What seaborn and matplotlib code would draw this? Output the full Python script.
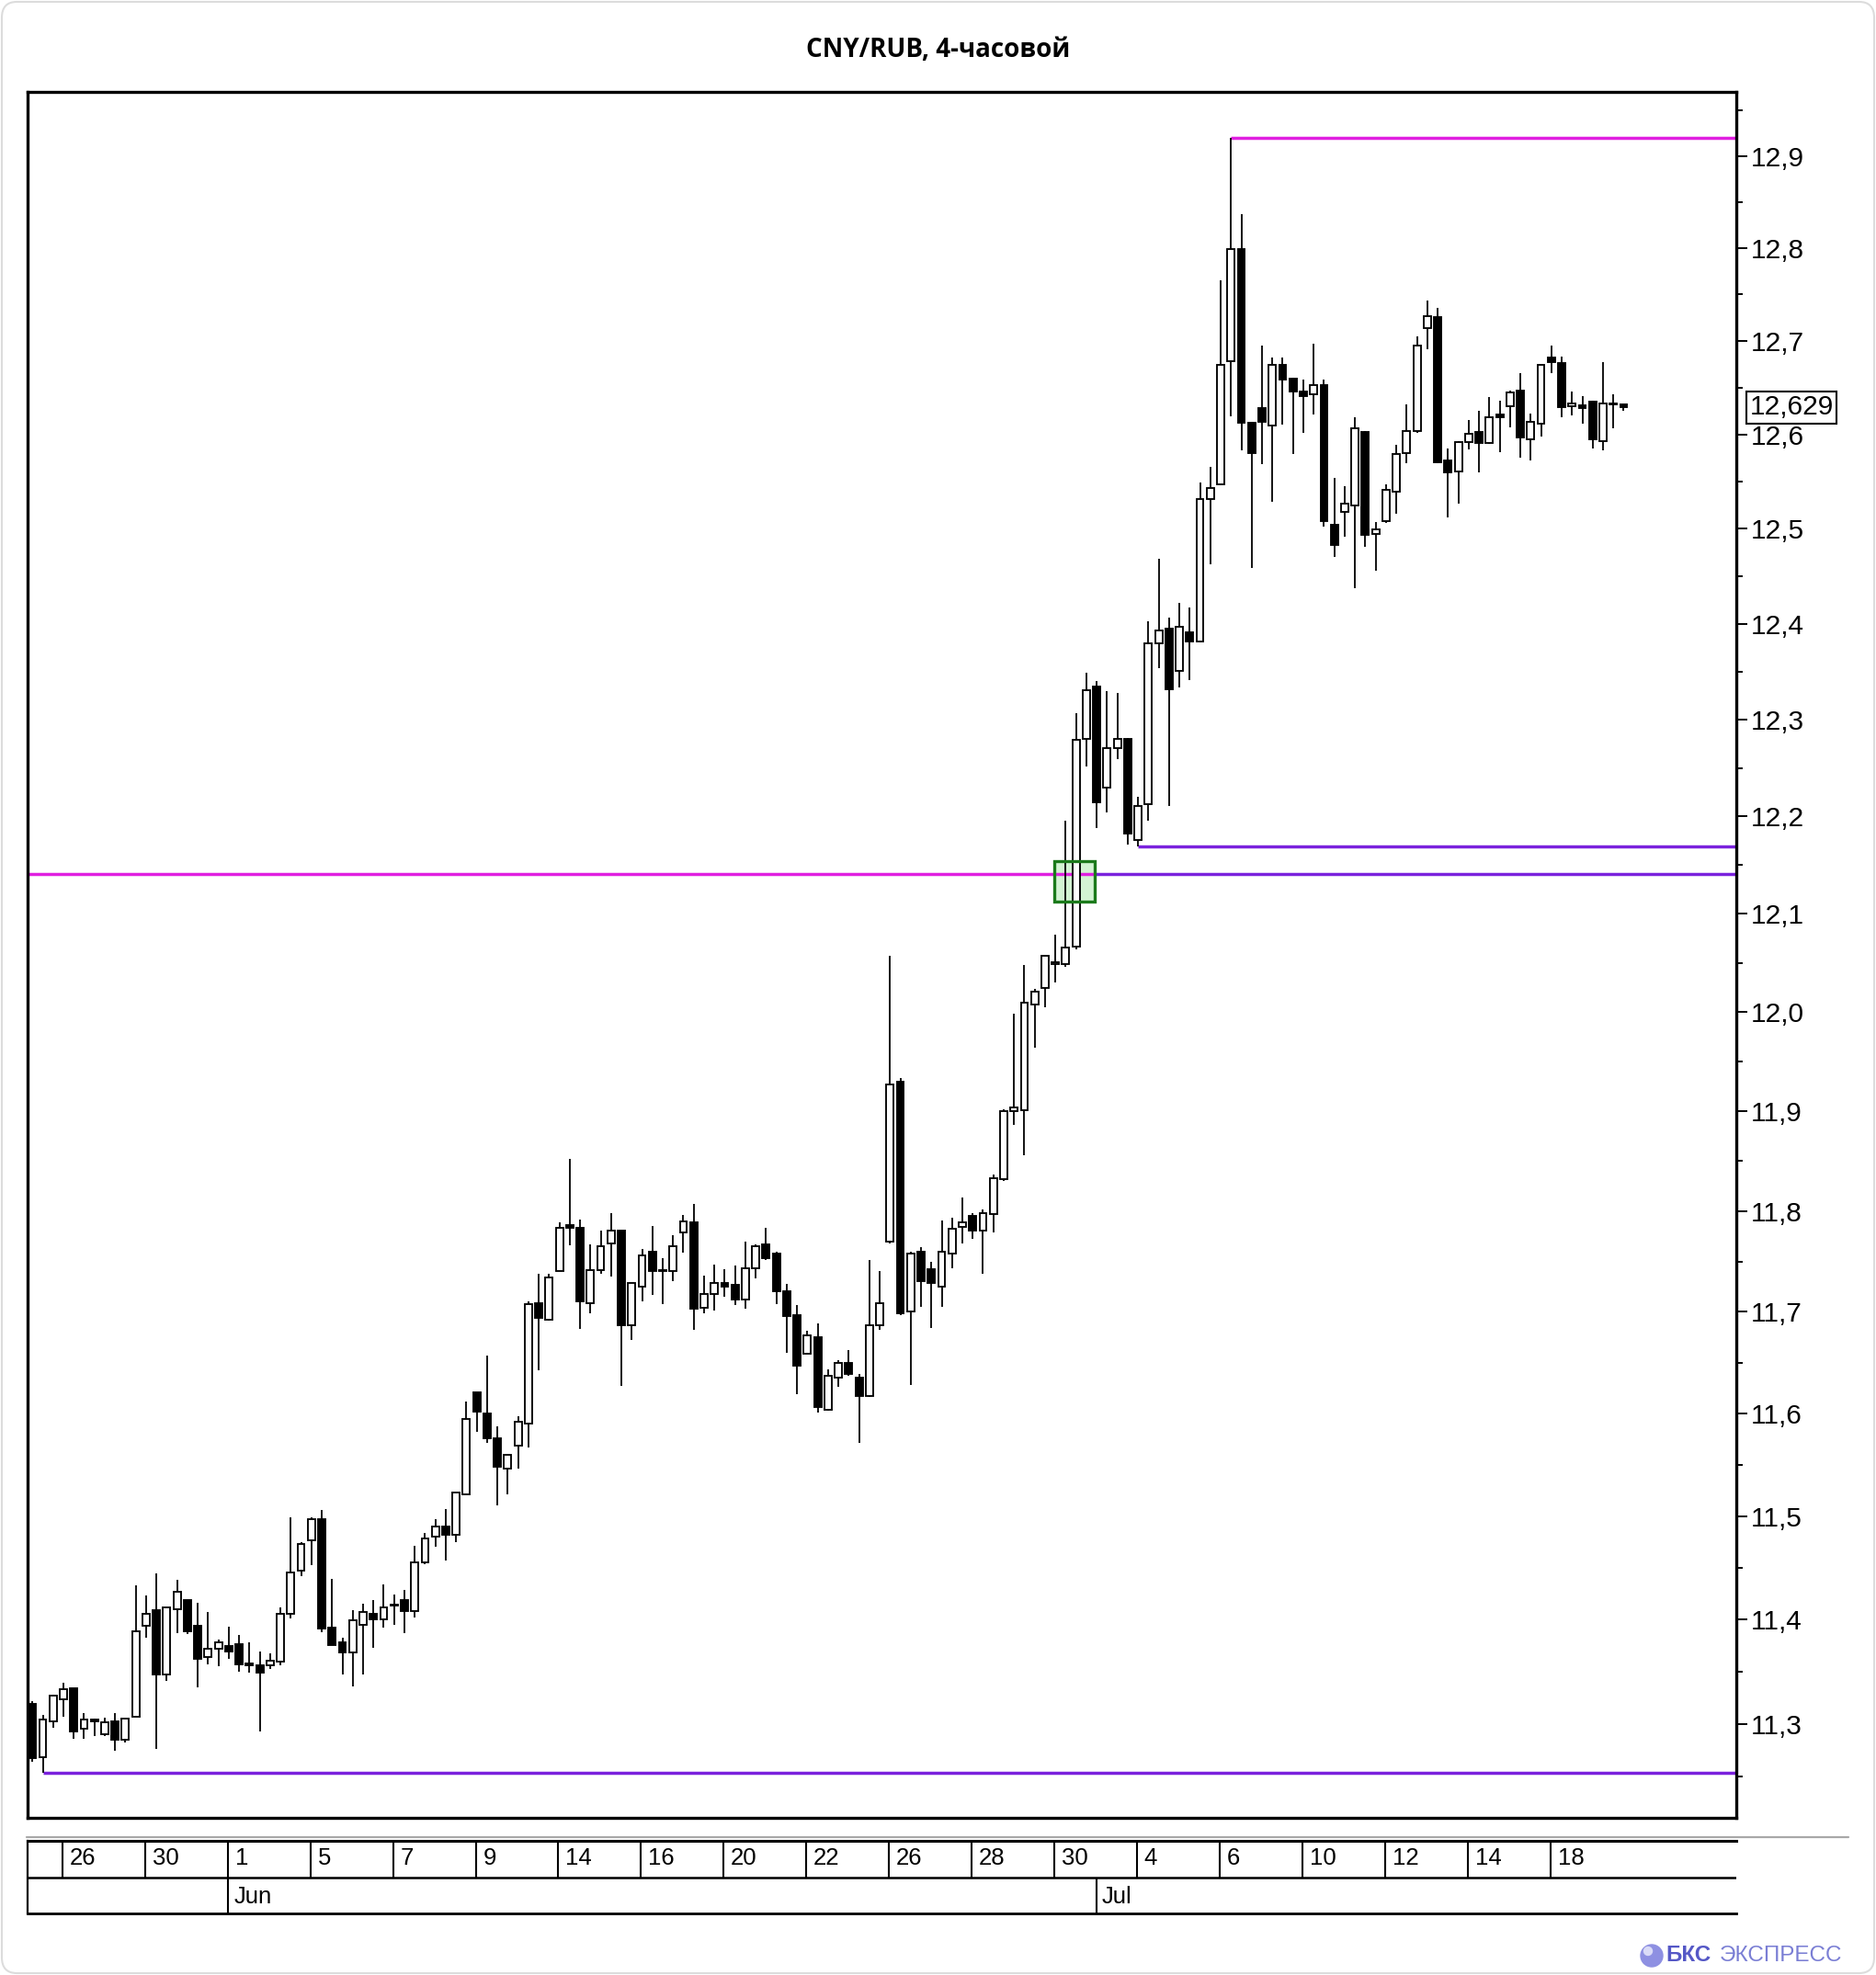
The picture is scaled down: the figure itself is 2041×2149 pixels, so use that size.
import numpy as np
import pandas as pd
import matplotlib
matplotlib.use("Agg")
import matplotlib.pyplot as plt
import matplotlib.ticker as mticker
import matplotlib.transforms as mtransforms
from matplotlib.patches import Rectangle, FancyBboxPatch, Ellipse
import seaborn as sns

# trading sessions shown on the chart (first one is only partly visible: 3 candles)
sessions = ["2023-05-25", "2023-05-26", "2023-05-29", "2023-05-30", "2023-05-31",
            "2023-06-01", "2023-06-02", "2023-06-05", "2023-06-06", "2023-06-07",
            "2023-06-08", "2023-06-09", "2023-06-13", "2023-06-14", "2023-06-15",
            "2023-06-16", "2023-06-19", "2023-06-20", "2023-06-21", "2023-06-22",
            "2023-06-23", "2023-06-26", "2023-06-27", "2023-06-28", "2023-06-29",
            "2023-06-30", "2023-07-03", "2023-07-04", "2023-07-05", "2023-07-06",
            "2023-07-07", "2023-07-10", "2023-07-11", "2023-07-12", "2023-07-13",
            "2023-07-14", "2023-07-17", "2023-07-18", "2023-07-19"]
candles_per_session = [3] + [4] * (len(sessions) - 1)

# 4h OHLC
opens = [11.319, 11.268, 11.302, 11.323, 11.334, 11.295, 11.304, 11.290, 11.302, 11.285,
         11.307, 11.394, 11.409, 11.347, 11.410, 11.419, 11.394, 11.364, 11.372, 11.374,
         11.376, 11.358, 11.356, 11.356, 11.359, 11.405, 11.447, 11.476, 11.497, 11.392,
         11.378, 11.368, 11.395, 11.405, 11.400, 11.413, 11.419, 11.408, 11.455, 11.480,
         11.490, 11.482, 11.521, 11.621, 11.600, 11.576, 11.546, 11.569, 11.590, 11.709,
         11.692, 11.740, 11.786, 11.783, 11.709, 11.741, 11.768, 11.781, 11.687, 11.725,
         11.760, 11.740, 11.740, 11.779, 11.789, 11.704, 11.718, 11.729, 11.727, 11.712,
         11.743, 11.767, 11.758, 11.720, 11.697, 11.659, 11.675, 11.604, 11.635, 11.650,
         11.635, 11.617, 11.687, 11.770, 11.930, 11.700, 11.760, 11.742, 11.725, 11.758,
         11.784, 11.795, 11.781, 11.797, 11.832, 11.900, 11.901, 12.008, 12.025, 12.049,
         12.049, 12.067, 12.280, 12.335, 12.230, 12.271, 12.280, 12.176, 12.213, 12.380,
         12.395, 12.351, 12.391, 12.382, 12.532, 12.547, 12.678, 12.799, 12.613, 12.628,
         12.610, 12.674, 12.660, 12.646, 12.643, 12.653, 12.504, 12.518, 12.525, 12.603,
         12.495, 12.508, 12.539, 12.580, 12.604, 12.714, 12.726, 12.572, 12.561, 12.592,
         12.603, 12.591, 12.621, 12.630, 12.647, 12.595, 12.612, 12.682, 12.676, 12.630,
         12.631, 12.635, 12.593, 12.632, 12.632]
highs = [11.322, 11.308, 11.328, 11.339, 11.334, 11.310, 11.305, 11.306, 11.310, 11.305,
         11.433, 11.423, 11.444, 11.412, 11.438, 11.419, 11.416, 11.407, 11.381, 11.393,
         11.385, 11.378, 11.369, 11.367, 11.412, 11.499, 11.475, 11.499, 11.506, 11.439,
         11.382, 11.409, 11.415, 11.419, 11.434, 11.424, 11.428, 11.471, 11.484, 11.497,
         11.507, 11.523, 11.612, 11.621, 11.657, 11.587, 11.560, 11.597, 11.710, 11.738,
         11.738, 11.789, 11.852, 11.792, 11.767, 11.781, 11.798, 11.781, 11.729, 11.762,
         11.785, 11.753, 11.776, 11.796, 11.807, 11.736, 11.747, 11.742, 11.746, 11.770,
         11.767, 11.783, 11.760, 11.728, 11.707, 11.681, 11.689, 11.643, 11.652, 11.662,
         11.639, 11.751, 11.740, 12.057, 11.933, 11.760, 11.764, 11.750, 11.791, 11.793,
         11.814, 11.798, 11.802, 11.837, 11.902, 11.998, 12.048, 12.024, 12.058, 12.079,
         12.196, 12.307, 12.349, 12.340, 12.330, 12.328, 12.281, 12.220, 12.403, 12.468,
         12.407, 12.422, 12.417, 12.549, 12.566, 12.765, 12.920, 12.837, 12.614, 12.695,
         12.682, 12.682, 12.661, 12.659, 12.697, 12.659, 12.554, 12.545, 12.618, 12.604,
         12.507, 12.547, 12.589, 12.632, 12.705, 12.743, 12.736, 12.585, 12.593, 12.615,
         12.625, 12.640, 12.636, 12.647, 12.666, 12.622, 12.675, 12.695, 12.683, 12.646,
         12.641, 12.636, 12.677, 12.643, 12.632]
lows = [11.264, 11.253, 11.296, 11.307, 11.286, 11.286, 11.288, 11.288, 11.274, 11.282,
        11.307, 11.382, 11.276, 11.341, 11.387, 11.386, 11.335, 11.357, 11.355, 11.362,
        11.350, 11.349, 11.293, 11.352, 11.356, 11.401, 11.442, 11.452, 11.388, 11.375,
        11.347, 11.336, 11.347, 11.373, 11.392, 11.395, 11.387, 11.402, 11.453, 11.470,
        11.457, 11.475, 11.521, 11.582, 11.571, 11.510, 11.521, 11.546, 11.567, 11.642,
        11.691, 11.740, 11.766, 11.683, 11.699, 11.738, 11.735, 11.627, 11.672, 11.710,
        11.717, 11.708, 11.730, 11.759, 11.682, 11.699, 11.701, 11.715, 11.707, 11.703,
        11.733, 11.751, 11.708, 11.660, 11.619, 11.659, 11.601, 11.603, 11.626, 11.637,
        11.571, 11.616, 11.682, 11.768, 11.697, 11.628, 11.705, 11.684, 11.705, 11.743,
        11.768, 11.772, 11.738, 11.779, 11.830, 11.886, 11.856, 11.964, 12.005, 12.030,
        12.046, 12.064, 12.252, 12.188, 12.204, 12.259, 12.171, 12.169, 12.196, 12.354,
        12.211, 12.334, 12.341, 12.381, 12.463, 12.546, 12.619, 12.583, 12.459, 12.569,
        12.529, 12.611, 12.579, 12.602, 12.621, 12.502, 12.470, 12.492, 12.438, 12.481,
        12.456, 12.506, 12.516, 12.570, 12.602, 12.691, 12.570, 12.512, 12.527, 12.584,
        12.560, 12.590, 12.581, 12.608, 12.575, 12.572, 12.598, 12.666, 12.618, 12.620,
        12.612, 12.585, 12.583, 12.607, 12.625]
closes = [11.267, 11.304, 11.327, 11.333, 11.293, 11.304, 11.302, 11.301, 11.285, 11.305,
          11.389, 11.405, 11.347, 11.412, 11.427, 11.389, 11.362, 11.372, 11.378, 11.369,
          11.357, 11.356, 11.349, 11.360, 11.405, 11.445, 11.473, 11.497, 11.391, 11.375,
          11.368, 11.399, 11.407, 11.400, 11.412, 11.414, 11.408, 11.455, 11.478, 11.490,
          11.482, 11.523, 11.595, 11.602, 11.576, 11.548, 11.560, 11.592, 11.708, 11.694,
          11.734, 11.783, 11.783, 11.710, 11.741, 11.765, 11.781, 11.687, 11.729, 11.756,
          11.740, 11.741, 11.765, 11.790, 11.703, 11.718, 11.729, 11.725, 11.712, 11.743,
          11.765, 11.753, 11.720, 11.696, 11.647, 11.677, 11.606, 11.637, 11.650, 11.639,
          11.617, 11.687, 11.709, 11.927, 11.699, 11.758, 11.730, 11.729, 11.760, 11.782,
          11.789, 11.781, 11.798, 11.833, 11.900, 11.904, 12.010, 12.021, 12.057, 12.051,
          12.066, 12.279, 12.331, 12.215, 12.271, 12.280, 12.182, 12.211, 12.380, 12.393,
          12.332, 12.397, 12.382, 12.532, 12.543, 12.674, 12.799, 12.613, 12.580, 12.614,
          12.674, 12.659, 12.646, 12.641, 12.653, 12.508, 12.483, 12.527, 12.607, 12.494,
          12.499, 12.541, 12.579, 12.604, 12.695, 12.727, 12.571, 12.560, 12.592, 12.601,
          12.591, 12.618, 12.618, 12.645, 12.597, 12.614, 12.674, 12.677, 12.629, 12.633,
          12.628, 12.595, 12.633, 12.633, 12.629]

last_price = 12.629
break_level = 12.141          # level broken on 30 Jun
break_box = (12.113, 12.154)  # highlighted breakout zone
break_candle = 101

# ---------------------------------------------------------------
df = pd.DataFrame({"open": opens, "high": highs, "low": lows, "close": closes})
df["x"] = np.arange(len(df))
df["date"] = np.repeat(pd.to_datetime(sessions), candles_per_session)
df["up"] = df["close"] >= df["open"]

sns.set_theme(style="white", rc={"axes.edgecolor": "black", "axes.linewidth": 2.0,
                                 "text.color": "black", "ytick.color": "black",
                                 "xtick.color": "black"})
plt.rcParams["font.family"] = ["Liberation Sans", "DejaVu Sans"]

W, H = 2041, 2149
fig = plt.figure(figsize=(W / 100, H / 100), dpi=100)
fig.patch.set_facecolor("white")

ax = fig.add_axes([30.2 / W, 1 - 1978 / H, (1889 - 30.2) / W, (1978 - 100) / H])
ax.set_yscale("log")
ax.set_xlim(-0.45, 164.9)
ax.set_ylim(11.2105, 12.970)

magenta = "#E020E0"
purple = "#7A22DD"
x_left, x_right = ax.get_xlim()

# candles
ax.vlines(df["x"], df["low"], df["high"], color="black", lw=1.3, zorder=3)
body_lo = df[["open", "close"]].min(axis=1)
body_h = (df["close"] - df["open"]).abs().clip(lower=0.0008)
ax.bar(df["x"], body_h, bottom=body_lo, width=0.7,
       color=np.where(df["up"], "white", "black"), edgecolor="black",
       linewidth=1.35, zorder=4)

# levels
lw_lvl = 2.5
i_top = int(df["high"].idxmax())
ax.hlines(df["high"].max(), i_top, x_right, color=magenta, lw=lw_lvl, zorder=2)
i_bot = int(df["low"].idxmin())
ax.hlines(df["low"].min(), i_bot, x_right, color=purple, lw=lw_lvl, zorder=2)
after = df[df["date"] >= "2023-07-03"]
i_sup = int(after["low"].idxmin())
ax.hlines(after["low"].min(), i_sup, x_right, color=purple, lw=lw_lvl, zorder=2)

bx0, bx1 = break_candle - 2.1, break_candle + 1.85
ax.hlines(break_level, x_left, bx1, color=magenta, lw=lw_lvl, zorder=2)
ax.hlines(break_level, bx1, x_right, color=purple, lw=lw_lvl, zorder=2)
ax.add_patch(Rectangle((bx0, break_box[0]), bx1 - bx0, break_box[1] - break_box[0],
                       facecolor="#C8F2C8", edgecolor="none", alpha=0.8, zorder=1))
ax.add_patch(Rectangle((bx0, break_box[0]), bx1 - bx0, break_box[1] - break_box[0],
                       facecolor="none", edgecolor="#1B7A1B", lw=2.4, zorder=5))

# y axis on the right, comma decimals
major = np.round(np.arange(11.3, 12.95, 0.1), 2)
minor = np.round(np.arange(11.25, 12.97, 0.1), 2)
ax.yaxis.tick_right()
ax.yaxis.set_major_locator(mticker.FixedLocator(major))
ax.yaxis.set_minor_locator(mticker.FixedLocator(minor))
ax.yaxis.set_major_formatter(mticker.FuncFormatter(lambda v, p: f"{v:.1f}".replace(".", ",")))
ax.yaxis.set_minor_formatter(mticker.NullFormatter())
ax.tick_params(axis="y", which="major", direction="out", length=8.4, width=1.4,
               labelsize=21.5, pad=3, right=True, left=False)
ax.tick_params(axis="y", which="minor", direction="out", length=4.8, width=1.4,
               right=True, left=False)
ax.set_xticks([])
for s in ax.spines.values():
    s.set_linewidth(2.4)
    s.set_color("black")

trans = mtransforms.blended_transform_factory(ax.transAxes, ax.transData)
ax.text(1.0078, last_price, f"{last_price:.3f}".replace(".", ","), transform=trans,
        ha="left", va="center", fontsize=21.5, zorder=10, clip_on=False,
        bbox=dict(boxstyle="square,pad=0.12", fc="white", ec="black", lw=1.5))

# date strip
ax2 = fig.add_axes([30.2 / W, 1 - 2082 / H, (1889 - 30.2) / W, (2082 - 2003) / H])
ax2.set_xlim(ax.get_xlim())
ax2.set_ylim(0, 1)
ax2.set_xticks([])
ax2.set_yticks([])
ax2.spines["right"].set_visible(False)
ax2.spines["top"].set_linewidth(2.2)
ax2.spines["bottom"].set_linewidth(2.0)
ax2.spines["left"].set_linewidth(1.6)
mid = 0.494
ax2.axhline(mid, color="black", lw=1.8)

starts = df.groupby("date")["x"].min()
day_dates = starts.index[1::2]
for d in day_dates:
    p = starts[d]
    ax2.vlines(p - 0.1, mid, 1, color="black", lw=1.5)
    ax2.text(p + 0.6, 0.76, str(d.day), fontsize=18.5, ha="left", va="center")
month_first = starts.groupby(starts.index.to_period("M")).min()
for per, p in month_first.items():
    if p == 0:
        continue
    ax2.vlines(p - 0.05, 0, mid, color="black", lw=1.5)
    ax2.text(p + 0.5, 0.23, per.strftime("%b"), fontsize=18.5, ha="left", va="center")

fig.add_artist(plt.Line2D([29 / W, 2011 / W], [1 - 1999 / H] * 2, color="#A8A8A8", lw=1.6))

# title
fig.text(0.5, 1 - 54 / H, "CNY/RUB, 4-часовой", ha="center", va="center",
         fontsize=20, fontweight="bold", family=["Open Sans", "DejaVu Sans"])

# watermark
fig.add_artist(Ellipse((1797 / W, 1 - 2128 / H), 24 / W, 24 / H, color="#8E90E2"))
fig.add_artist(Ellipse((1793 / W, 1 - 2123 / H), 9 / W, 9 / H, color="#DADBF7"))
fig.text(1812 / W, 1 - 2128 / H, "БКС", fontweight="bold",
         fontsize=17.5, color="#5558C6", va="center", ha="left")
fig.text(1871 / W, 1 - 2128 / H, "ЭКСПРЕСС", fontsize=17.5,
         color="#7A7ED4", va="center", ha="left")

fig.add_artist(FancyBboxPatch((2 / W, 2 / H), 1 - 4 / W, 1 - 4 / H,
                              boxstyle="round,pad=0,rounding_size=0.008",
                              transform=fig.transFigure, fc="none", ec="#DCDCDC", lw=1.5))

fig.savefig("out.png", dpi=100)
